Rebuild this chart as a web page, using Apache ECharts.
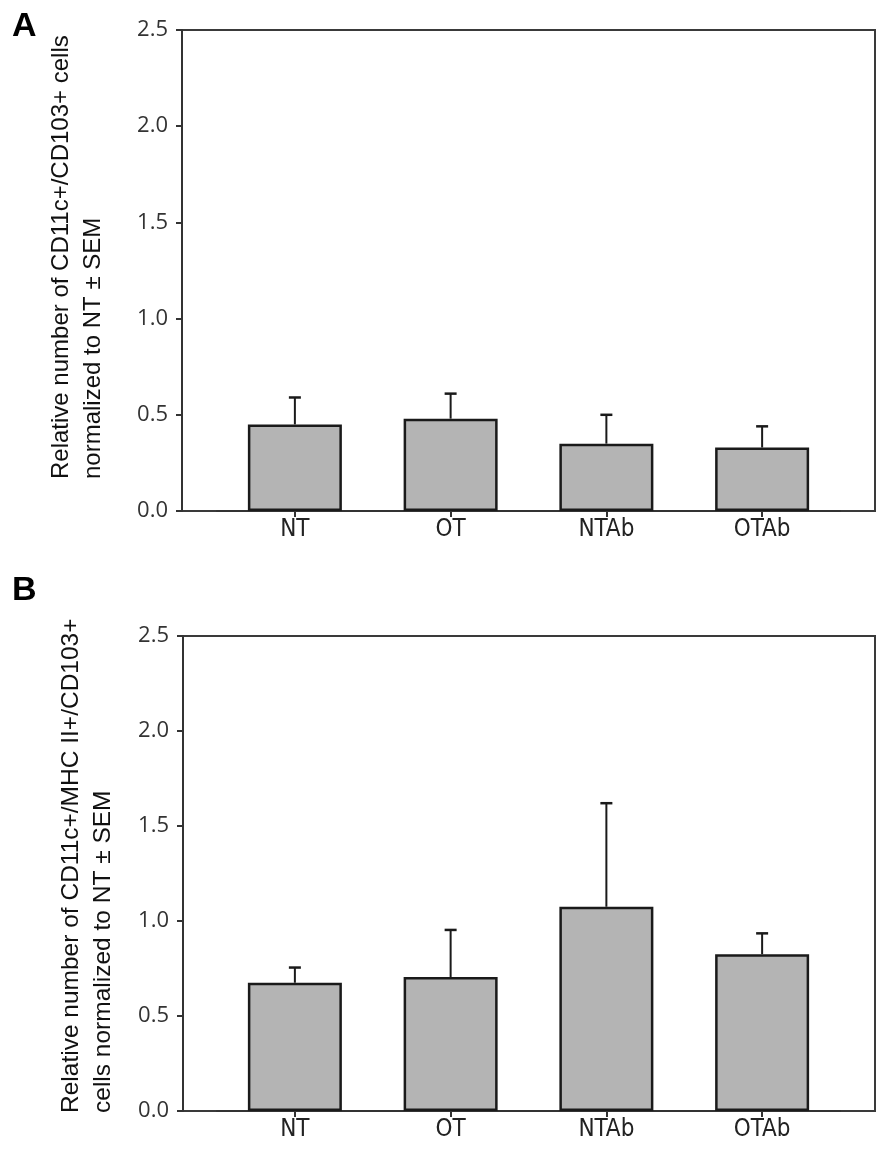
<!DOCTYPE html>
<html>
<head>
<meta charset="utf-8">
<script src="https://cdn.jsdelivr.net/npm/echarts@6/dist/echarts.min.js"></script>
<style>
html,body{margin:0;padding:0;background:#fff;}
#chart{width:892px;height:1150px;}
</style>
</head>
<body>
<div id="chart"></div>
<script>
// ---- data ----
var categories = ['NT', 'OT', 'NTAb', 'OTAb'];
var yTicks = [0.0, 0.5, 1.0, 1.5, 2.0, 2.5];
var meanA = [0.45, 0.48, 0.35, 0.33];
var upperA = [0.59, 0.61, 0.50, 0.44];
var meanB = [0.675, 0.705, 1.075, 0.825];
var upperB = [0.755, 0.953, 1.62, 0.935];
var titleA = 'Relative number of CD11c+/CD103+ cells\nnormalized to NT \u00b1 SEM';
var titleB = 'Relative number of CD11c+/MHC II+/CD103+\ncells normalized to NT \u00b1 SEM';

var chart = echarts.init(document.getElementById('chart'), null, {renderer: 'canvas'});
var AX = '#333';
var yMin = yTicks[0], yMax = yTicks[yTicks.length - 1], yStep = yTicks[1] - yTicks[0];

function panel(top, height, outerLeft, gi) {
  return {
    grids: [
      {left: outerLeft, right: 17, top: top, height: height, show: true, borderColor: '#3a3a3a', borderWidth: 2, backgroundColor: 'transparent'},
      {left: 217, right: 52, top: top, height: height}
    ],
    xAxes: [
      {gridIndex: gi, type: 'value', show: false, min: 0, max: 1},
      {gridIndex: gi + 1, type: 'category', data: categories,
        axisLine: {show: true, lineStyle: {color: AX, width: 2}},
        axisTick: {show: true, alignWithLabel: true, length: 6, lineStyle: {color: AX, width: 2}},
        axisLabel: {color: '#222', fontFamily: '"Liberation Sans Narrow","DejaVu Sans Condensed","Liberation Sans",sans-serif', fontSize: 24, margin: 7}
      }
    ],
    yAxes: [
      {gridIndex: gi, type: 'value', min: yMin, max: yMax, interval: yStep,
        axisLine: {show: true, lineStyle: {color: AX, width: 2}},
        axisTick: {show: true, length: 6, lineStyle: {color: AX, width: 2}},
        splitLine: {show: false},
        axisLabel: {color: '#333', fontFamily: '"Open Sans",sans-serif', fontSize: 22, margin: 14,
          formatter: function (v) { return v.toFixed(1); }}
      },
      {gridIndex: gi + 1, type: 'value', min: yMin, max: yMax, interval: yStep, show: false}
    ]
  };
}

var pA = panel(30, 481, 182, 0);
var pB = panel(636, 475, 183, 2);

function barSeries(axisIdx, means) {
  return {
    type: 'bar', xAxisIndex: axisIdx, yAxisIndex: axisIdx, data: means, barWidth: 94,
    itemStyle: {color: '#b4b4b4', borderColor: '#1a1a1a', borderWidth: 2.5},
    z: 2, silent: true
  };
}
function errSeries(axisIdx, means, uppers) {
  return {
    type: 'custom', xAxisIndex: axisIdx, yAxisIndex: axisIdx, z: 1,
    data: means.map(function (m, i) { return [i, m, uppers[i]]; }),
    renderItem: function (params, api) {
      var lo = api.coord([api.value(0), api.value(1)]);
      var hi = api.coord([api.value(0), api.value(2)]);
      var cap = 6;
      return {
        type: 'group',
        children: [
          {type: 'line', shape: {x1: hi[0], y1: lo[1], x2: hi[0], y2: hi[1]}, style: {stroke: '#1a1a1a', lineWidth: 2}},
          {type: 'line', shape: {x1: hi[0] - cap, y1: hi[1], x2: hi[0] + cap, y2: hi[1]}, style: {stroke: '#1a1a1a', lineWidth: 2.5}}
        ]
      };
    }
  };
}

var option = {
  backgroundColor: '#fff',
  animation: false,
  grid: pA.grids.concat(pB.grids),
  xAxis: pA.xAxes.concat(pB.xAxes),
  yAxis: pA.yAxes.concat(pB.yAxes),
  series: [
    errSeries(1, meanA, upperA),
    barSeries(1, meanA),
    errSeries(3, meanB, upperB),
    barSeries(3, meanB)
  ],
  graphic: [
    {type: 'text', left: 12, top: 10, style: {text: 'A', font: 'bold 34px "Liberation Sans", Arial, sans-serif', fill: '#000'}},
    {type: 'text', left: 12, top: 574, style: {text: 'B', font: 'bold 34px "Liberation Sans", Arial, sans-serif', fill: '#000'}},
    {type: 'text', x: 45, y: 479, rotation: Math.PI / 2,
      style: {text: titleA, font: '24px "Liberation Sans", Arial, sans-serif', fill: '#111', align: 'left', verticalAlign: 'top', lineHeight: 32}},
    {type: 'text', x: 55, y: 1113, rotation: Math.PI / 2,
      style: {text: titleB, font: '24.5px "Liberation Sans", Arial, sans-serif', fill: '#111', align: 'left', verticalAlign: 'top', lineHeight: 32}}
  ]
};
chart.setOption(option);
</script>
</body>
</html>
